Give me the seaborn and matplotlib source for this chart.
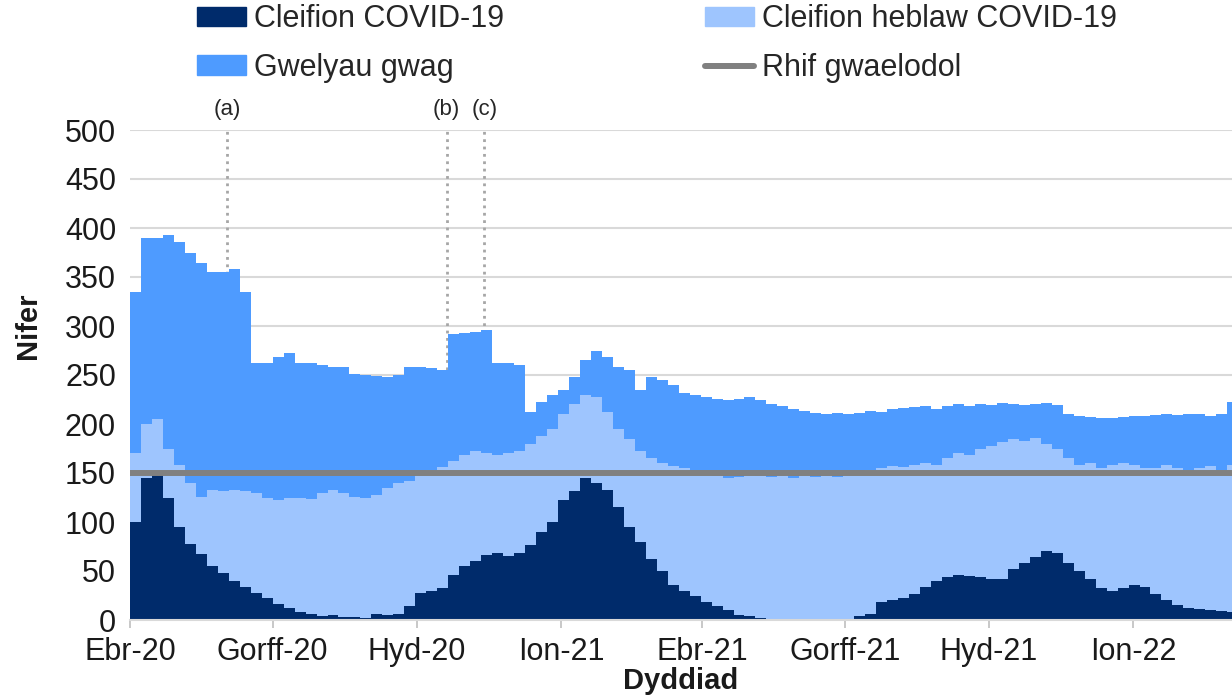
import matplotlib
matplotlib.use("Agg")
import matplotlib.pyplot as plt
import seaborn as sns
import pandas as pd
import numpy as np
from matplotlib.patches import Patch
from matplotlib.lines import Line2D

# weekly values, weeks starting 1 Apr 2020
covid = [100, 145, 152, 125, 95, 78, 67, 55, 48, 40,
         34, 28, 22, 16, 12, 8, 6, 4, 5, 3,
         3, 2, 6, 5, 6, 14, 28, 30, 33, 46,
         55, 60, 66, 68, 65, 68, 77, 90, 100, 122,
         132, 145, 140, 133, 115, 95, 80, 62, 50, 36,
         30, 24, 18, 14, 10, 5, 4, 2, 1, 1,
         1, 1, 1, 0, 1, 1, 4, 6, 18, 20,
         22, 27, 34, 40, 44, 46, 45, 44, 42, 42,
         52, 58, 64, 70, 68, 58, 50, 42, 33, 30,
         33, 36, 34, 27, 20, 15, 12, 11, 10, 9,
         8]

non_covid = [70, 55, 53, 50, 63, 62, 59, 78, 84, 93,
             98, 102, 103, 106, 112, 117, 117, 126, 128, 127,
             123, 122, 122, 130, 134, 128, 122, 123, 123, 116,
             113, 112, 104, 100, 105, 104, 103, 98, 95, 88,
             88, 85, 88, 79, 80, 90, 92, 103, 110, 121,
             125, 128, 132, 133, 135, 141, 144, 145, 145, 147,
             144, 147, 145, 147, 145, 147, 146, 147, 137, 137,
             134, 131, 126, 118, 121, 124, 123, 131, 136, 140,
             133, 125, 122, 110, 107, 107, 108, 118, 122, 128,
             127, 122, 121, 128, 138, 140, 141, 144, 147, 144,
             150]

empty_beds = [165, 190, 185, 218, 228, 235, 238, 222, 223, 225,
              203, 132, 137, 146, 148, 137, 139, 130, 125, 128,
              125, 126, 121, 113, 110, 116, 108, 104, 99, 130,
              125, 122, 126, 94, 92, 88, 32, 34, 35, 25,
              28, 35, 47, 56, 63, 70, 63, 83, 85, 83,
              77, 78, 78, 79, 80, 80, 80, 78, 74, 70,
              70, 65, 65, 63, 65, 62, 61, 60, 57, 58,
              60, 59, 58, 57, 53, 50, 50, 45, 41, 39,
              35, 36, 34, 41, 44, 45, 50, 47, 51, 48,
              47, 50, 53, 54, 52, 54, 57, 55, 51, 57,
              64]

baseline_beds = 150

series_names = ["Cleifion COVID-19", "Cleifion heblaw COVID-19", "Gwelyau gwag"]
baseline_name = "Rhif gwaelodol"

tick_dates = ["2020-04-01", "2020-07-01", "2020-10-01", "2021-01-01",
              "2021-04-01", "2021-07-01", "2021-10-01", "2022-01-01"]
tick_labels = ["Ebr-20", "Gorff-20", "Hyd-20", "Ion-21",
               "Ebr-21", "Gorff-21", "Hyd-21", "Ion-22"]

note_dates = ["2020-06-02", "2020-10-20", "2020-11-13"]
note_labels = ["(a)", "(b)", "(c)"]

colours = ["#002b6b", "#9ec5fe", "#4e9bff"]
line_colour = "#808080"

sns.set_theme(style="white")
plt.rcParams["font.family"] = ["Liberation Sans", "DejaVu Sans"]

n = len(covid)
edges = pd.date_range("2020-04-01", periods=n + 1, freq="7D")

fig = plt.figure(figsize=(12.32, 7), dpi=100)
ax = fig.add_axes([130 / 1232, 80 / 700, 1 - 130 / 1232, 490 / 700])

lower = np.zeros(n + 1)
for vals, col in zip([covid, non_covid, empty_beds], colours):
    v = np.append(vals, vals[-1])
    upper = lower + v
    ax.fill_between(edges, lower, upper, step="post", color=col, lw=0, zorder=2)
    lower = upper

sns.lineplot(x=edges, y=np.full(n + 1, baseline_beds), color=line_colour,
             lw=4.3, ax=ax, zorder=3, legend=False)

for d, lab in zip(note_dates, note_labels):
    d = pd.Timestamp(d)
    ax.vlines(d, 0, 500, colors="#a6a6a6", linestyles=":", lw=2, zorder=1.5)
    ax.text(d, 521, lab, ha="center", va="center", fontsize=16,
            color="#262626", clip_on=False)

ax.set_ylim(0, 500)
ax.set_yticks(range(0, 501, 50))
ax.set_xlim(pd.Timestamp("2020-04-01"), pd.Timestamp("2022-03-05"))
ax.set_xticks(pd.to_datetime(tick_dates))
ax.set_xticklabels(tick_labels)

ax.yaxis.grid(True, color="#d9d9d9", lw=1.5)
ax.set_axisbelow(True)
for s in ["top", "right", "left"]:
    ax.spines[s].set_visible(False)
ax.spines["bottom"].set_color("#d9d9d9")
ax.spines["bottom"].set_linewidth(1.5)

ax.tick_params(axis="x", bottom=True, length=6, width=1.2, color="#bfbfbf",
               labelsize=22, pad=6, labelcolor="#1a1a1a")
ax.tick_params(axis="y", left=False, labelsize=22, pad=4, labelcolor="#1a1a1a")

ax.set_ylabel("Nifer", fontsize=21, fontweight="bold", color="#1a1a1a")
ax.yaxis.set_label_coords(-0.08, 0.60)
ax.set_xlabel("Dyddiad", fontsize=21, fontweight="bold", color="#1a1a1a", labelpad=0)

handles = [Patch(color=colours[0]), Patch(color=colours[2]),
           Patch(color=colours[1]), Line2D([], [], color=line_colour, lw=4.3)]
labels = [series_names[0], series_names[2], series_names[1], baseline_name]
fig.legend(handles, labels, ncol=2, loc="upper left",
           bbox_to_anchor=(197 / 1232, 1 - 4 / 700), frameon=False, fontsize=22,
           handlelength=1.6, handleheight=0.6, handletextpad=0.25,
           columnspacing=6.6, labelspacing=0.62, borderpad=0, borderaxespad=0)

fig.savefig("out.png", dpi=100)
